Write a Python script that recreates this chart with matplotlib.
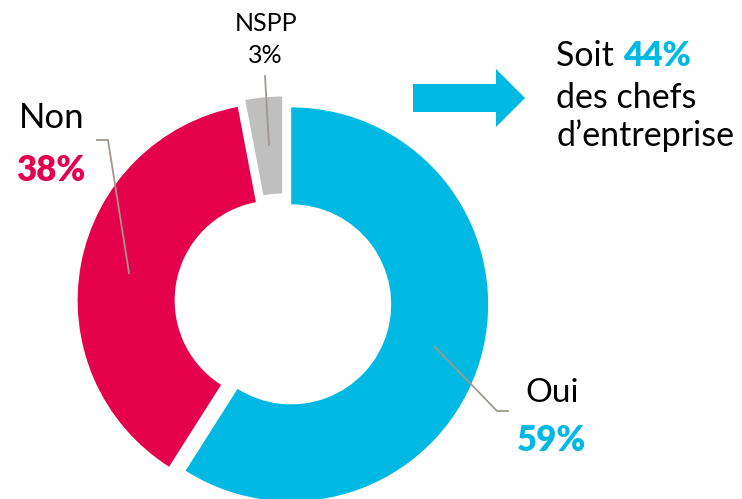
import matplotlib
matplotlib.use("Agg")
import matplotlib.pyplot as plt
from matplotlib.patches import Polygon

# Data
categories = ["Oui", "Non", "NSPP"]
values = [59, 38, 3]
pct_labels = ["59%", "38%", "3%"]
colors = ["#00B9E3", "#E4004B", "#BFBFBF"]
note_pct = "44%"

W, H = 742, 499
FONT = ["Lato", "DejaVu Sans"]
LINE = "#A0988C"

fig = plt.figure(figsize=(W / 100, H / 100), dpi=100)
ax = fig.add_axes([0, 0, 1, 1])

def Y(y):
    return H - y

R = 197
ax.pie(values, colors=colors, startangle=90, counterclock=False,
       radius=R, center=(283, Y(302)), explode=[8.5, 8.5, 8.5],
       wedgeprops=dict(width=97, linewidth=0))
ax.set_xlim(0, W)
ax.set_ylim(0, H)
ax.set_aspect("equal")
ax.axis("off")

# leader lines
ax.plot([265, 269], [Y(76), Y(145)], color=LINE, lw=1.3)
ax.plot([97, 108, 129], [Y(140), Y(140), Y(273)], color=LINE, lw=1.3)
ax.plot([435, 497, 508], [Y(347), Y(411), Y(411)], color=LINE, lw=1.3)

# labels
ax.text(266, Y(31), categories[2], ha="center", va="baseline", fontsize=18, family=FONT, color="black")
ax.text(265, Y(63), pct_labels[2], ha="center", va="baseline", fontsize=18, family=FONT, color="black")
ax.text(52, Y(128), categories[1], ha="center", va="baseline", fontsize=25, family=FONT, color="black")
ax.text(51, Y(181), pct_labels[1], ha="center", va="baseline", fontsize=25, family=FONT, color=colors[1], fontweight="heavy")
ax.text(552, Y(402), categories[0], ha="center", va="baseline", fontsize=24, family=FONT, color="black")
ax.text(552, Y(451), pct_labels[0], ha="center", va="baseline", fontsize=25, family=FONT, color=colors[0], fontweight="heavy")

# arrow
arrow = Polygon([(413, Y(84)), (496, Y(84)), (496, Y(69)), (525, Y(98)),
                 (496, Y(127)), (496, Y(112)), (413, Y(112))],
                closed=True, facecolor=colors[0], edgecolor="none")
ax.add_patch(arrow)

# note text
NS = 24.5
t = ax.text(556, Y(66), "Soit ", ha="left", va="baseline", fontsize=NS, family=FONT, color="black")
fig.canvas.draw()
bb = t.get_window_extent()
ax.text(bb.x1, Y(66), note_pct, ha="left", va="baseline", fontsize=NS, family=FONT,
        color=colors[0], fontweight="heavy")
ax.text(556, Y(108), "des chefs", ha="left", va="baseline", fontsize=NS, family=FONT, color="black")
ax.text(556, Y(146), "d\u2019entreprise", ha="left", va="baseline", fontsize=NS, family=FONT, color="black")

fig.savefig("out.png", dpi=100)
